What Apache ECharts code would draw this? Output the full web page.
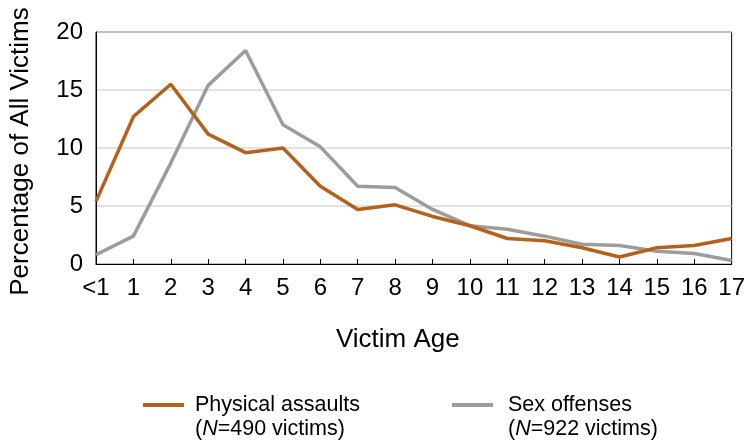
<!DOCTYPE html>
<html>
<head>
<meta charset="utf-8">
<script src="https://cdn.jsdelivr.net/npm/echarts@6/dist/echarts.min.js"></script>
<style>
html,body{margin:0;padding:0;background:#fff;}
#main{width:748px;height:443px;}
</style>
</head>
<body>
<div id="main"></div>
<script>
var categories = ['<1','1','2','3','4','5','6','7','8','9','10','11','12','13','14','15','16','17'];
var physicalAssaults = [5.4,12.7,15.5,11.2,9.6,10.0,6.7,4.7,5.1,4.1,3.3,2.2,2.0,1.4,0.6,1.4,1.6,2.2];
var sexOffenses = [0.8,2.4,8.7,15.4,18.4,12.0,10.1,6.7,6.6,4.7,3.3,3.0,2.4,1.7,1.6,1.1,0.9,0.3];
var seriesNames = ['Physical assaults','Sex offenses'];
var seriesNotes = ['490','922'];
var colors = ['#B5611C','#9C9C9C'];
var yTicks = [0,5,10,15,20];

var font = 'Liberation Sans, Arial, sans-serif';
var chart = echarts.init(document.getElementById('main'));
chart.setOption({
  animation:false,
  textStyle:{fontFamily:font},
  grid:{left:96,right:12,top:32,bottom:179,show:true,borderColor:'#000',borderWidth:1,backgroundColor:'transparent'},
  xAxis:{
    type:'category',data:categories,boundaryGap:false,
    name:'Victim Age',nameLocation:'middle',nameGap:63,
    nameTextStyle:{fontSize:26,color:'#000',fontFamily:font,padding:[0,32,0,0]},
    axisLine:{lineStyle:{color:'#000',width:1}},
    axisTick:{inside:true,length:5,lineStyle:{color:'#000'}},
    axisLabel:{fontSize:24,color:'#000',margin:12,interval:0,fontFamily:font},
    splitLine:{show:false}
  },
  yAxis:{
    type:'value',min:yTicks[0],max:yTicks[yTicks.length-1],interval:5,
    name:'Percentage of All Victims',nameLocation:'middle',nameGap:62,
    nameTextStyle:{fontSize:26,color:'#000',fontFamily:font,padding:[0,7,0,0]},
    axisLine:{show:true,lineStyle:{color:'#000',width:1}},
    axisTick:{show:false},
    axisLabel:{fontSize:24,color:'#000',margin:13,fontFamily:font},
    splitLine:{lineStyle:{color:'#d9d9d9',width:1.5}}
  },
  legend:[
    {data:[seriesNames[0]],left:138,top:389,itemWidth:41,itemHeight:4,itemGap:0,
     icon:'rect',textStyle:{fontSize:21.5,color:'#000',fontFamily:font,padding:[0,0,0,6]}},
    {data:[seriesNames[1]],left:447,top:389,itemWidth:41,itemHeight:4,itemGap:0,
     icon:'rect',textStyle:{fontSize:21.5,color:'#000',fontFamily:font,padding:[0,0,0,10]}}
  ],
  graphic:[
    {type:'text',left:195,top:418,style:{
      text:'({i|N}=' + seriesNotes[0] + ' victims)',
      rich:{i:{fontStyle:'italic',fontSize:21.5,fill:'#000',fontFamily:font}},
      fontSize:21.5,fill:'#000',fontFamily:font}},
    {type:'text',left:508,top:418,style:{
      text:'({i|N}=' + seriesNotes[1] + ' victims)',
      rich:{i:{fontStyle:'italic',fontSize:21.5,fill:'#000',fontFamily:font}},
      fontSize:21.5,fill:'#000',fontFamily:font}}
  ],
  series:[
    {name:seriesNames[0],type:'line',data:physicalAssaults,showSymbol:false,symbol:'none',
     lineStyle:{color:colors[0],width:3.5},itemStyle:{color:colors[0]},z:3},
    {name:seriesNames[1],type:'line',data:sexOffenses,showSymbol:false,symbol:'none',
     lineStyle:{color:colors[1],width:3.5},itemStyle:{color:colors[1]},z:2}
  ]
});
</script>
</body>
</html>
